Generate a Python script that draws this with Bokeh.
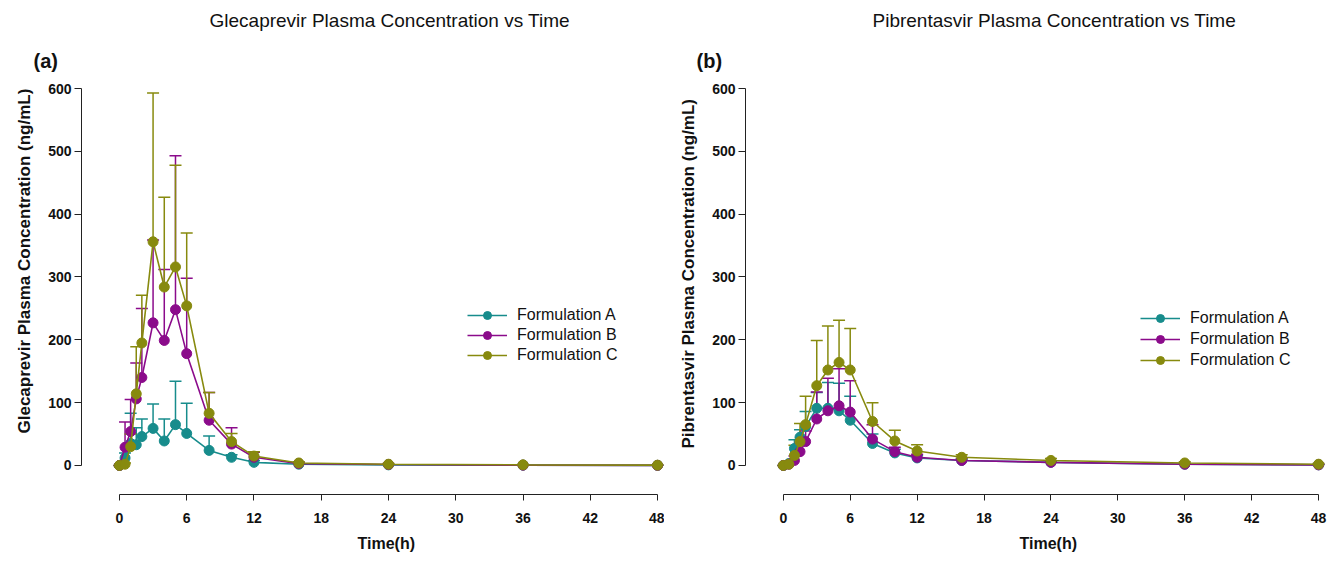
import math
from bokeh.plotting import figure
from bokeh.layouts import row
from bokeh.models import (Range1d, FixedTicker, Whisker, TeeHead, ColumnDataSource,
                          Title, Legend, LegendItem)
from bokeh.embed import file_html
from bokeh.resources import INLINE

# ---------------- data ----------------
time_h = [0, 0.5, 1, 1.5, 2, 3, 4, 5, 6, 8, 10, 12, 16, 24, 36, 48]
series_names = ["Formulation A", "Formulation B", "Formulation C"]
series_colors = ["#178c8c", "#8b0b8b", "#878a0e"]

# Glecaprevir (panel a): mean and SD (upper error bar length)
gle_A = [0, 12, 35, 33, 46, 59, 39, 65, 51, 24, 13, 5, 2, 1, 0.5, 0.2]
gle_A_sd = [0, 8, 48, 27, 28, 39, 35, 69, 48, 23, 4, 3, 1, 0.5, 0.3, 0.2]
gle_B = [0, 29, 54, 106, 140, 227, 199, 248, 178, 72, 34, 13, 3, 1.5, 0.5, 0.2]
gle_B_sd = [0, 40, 51, 57, 110, 132, 113, 245, 120, 44, 26, 8, 2, 0.5, 0.5, 0.3]
gle_C = [0, 2, 30, 114, 195, 356, 284, 316, 254, 83, 38, 15, 4, 2, 1, 0.5]
gle_C_sd = [0, 2, 20, 75, 76, 237, 143, 162, 116, 33, 13, 7, 2, 1, 0.5, 0.5]

# Pibrentasvir (panel b)
pib_A = [0, 3, 27, 45, 62, 91, 91, 87, 72, 35, 20, 12, 8, 5, 2, 1]
pib_A_sd = [0, 2, 14, 12, 24, 25, 41, 44, 38, 15, 6, 4, 2, 1, 1, 0.5]
pib_B = [0, 2, 8, 22, 38, 74, 87, 95, 85, 42, 22, 13, 8, 5, 2, 1]
pib_B_sd = [0, 1, 7, 13, 17, 43, 52, 59, 50, 23, 7, 5, 3, 2, 1, 0.5]
pib_C = [0, 2, 16, 38, 65, 127, 152, 164, 152, 70, 39, 23, 13, 8, 4, 2]
pib_C_sd = [0, 2, 16, 29, 45, 72, 70, 67, 66, 30, 17, 10, 4, 3, 2, 1]

x_ticks = [0, 6, 12, 18, 24, 30, 36, 42, 48]
y_ticks = [0, 100, 200, 300, 400, 500, 600]

titles = ["Glecaprevir Plasma Concentration vs Time", "Pibrentasvir Plasma Concentration vs Time"]
tags = ["(a)", "(b)"]
y_labels = ["Glecaprevir Plasma Concentration (ng/mL)", "Pibrentasvir Plasma Concentration (ng/mL)"]
x_label = "Time(h)"

FONT = "Liberation Sans"
INK = "#111111"


def make_panel(title, tag, ylabel, means, sds, width, border_left, x_start, x_end,
               title_off, tag_off, ylab_off, xlab_off, leg_x, leg_y, leg_spacing):
    p = figure(width=width, height=561, output_backend="svg", toolbar_location=None,
               x_range=Range1d(x_start, x_end), y_range=Range1d(-46.2, 600),
               min_border_left=border_left, min_border_right=0,
               min_border_top=88, min_border_bottom=67)
    p.title = None
    p.outline_line_color = None
    p.xgrid.visible = False
    p.ygrid.visible = False
    p.background_fill_color = "white"
    p.border_fill_color = "white"

    for ax, ticks, bnds in ((p.xaxis[0], x_ticks, (0, 48)), (p.yaxis[0], y_ticks, (0, 600))):
        ax.ticker = FixedTicker(ticks=ticks)
        ax.bounds = bnds
        ax.minor_tick_line_color = None
        ax.major_tick_in = 0
        ax.axis_line_color = "#222222"
        ax.major_tick_line_color = "#222222"
        ax.major_label_text_font = FONT
        ax.major_label_text_font_style = "bold"
        ax.major_label_text_font_size = "14px"
        ax.major_label_text_color = INK
    p.yaxis[0].major_tick_out = 7
    p.yaxis[0].major_label_standoff = 3
    p.xaxis[0].major_tick_out = 6
    p.xaxis[0].major_label_standoff = 12

    items = []
    for name, color, m, s in zip(series_names, series_colors, means, sds):
        src = ColumnDataSource(dict(t=time_h, m=m, hi=[a + b for a, b in zip(m, s)]))
        w = Whisker(base="t", lower="m", upper="hi", source=src, dimension="height",
                    line_color=color, line_width=1.5,
                    upper_head=TeeHead(size=12, line_color=color, line_width=1.5),
                    lower_head=None)
        p.add_layout(w)
        r1 = p.line("t", "m", source=src, line_color=color, line_width=1.6)
        r2 = p.scatter("t", "m", source=src, marker="circle", size=10,
                       fill_color=color, line_color=color)
        items.append(LegendItem(label=name, renderers=[r1, r2]))

    leg = Legend(items=items, location=(leg_x, leg_y), border_line_alpha=0,
                 background_fill_alpha=0, padding=0, margin=0, spacing=leg_spacing,
                 glyph_width=40, glyph_height=20, label_height=20, label_standoff=10,
                 label_text_font=FONT, label_text_font_size="16px",
                 label_text_color=INK)
    p.add_layout(leg)

    # panel tag (nearest the frame), then main title (outermost)
    p.add_layout(Title(text=tag, align="left", offset=tag_off, standoff=34,
                       text_font=FONT, text_font_size="20px", text_font_style="bold",
                       text_color=INK), "above")
    p.add_layout(Title(text=title, align="left", offset=title_off, standoff=0,
                       text_font=FONT, text_font_size="19px", text_font_style="normal",
                       text_color=INK), "above")
    # y-axis title (outside the y axis)
    p.add_layout(Title(text=ylabel, align="left", offset=ylab_off, standoff=24,
                       text_font=FONT, text_font_size="17px", text_font_style="bold",
                       text_color=INK), "left")
    # x-axis title
    p.add_layout(Title(text=x_label, align="left", offset=xlab_off, standoff=15,
                       text_font=FONT, text_font_size="16px", text_font_style="bold",
                       text_color=INK), "below")
    return p


pa = make_panel(titles[0], tags[0], y_labels[0], [gle_A, gle_B, gle_C],
                [gle_A_sd, gle_B_sd, gle_C_sd], 664, 80, -3.384, 48.62,
                128, -48, 61, 276, 386, 129, 0)
pb = make_panel(titles[1], tags[1], y_labels[1], [pib_A, pib_B, pib_C],
                [pib_A_sd, pib_B_sd, pib_C_sd], 664, 78, -3.39, 48.89,
                127, -49, 46, 274, 395, 124, 1)

layout = row(pa, pb)
open("out.html", "w").write(file_html(layout, INLINE))
